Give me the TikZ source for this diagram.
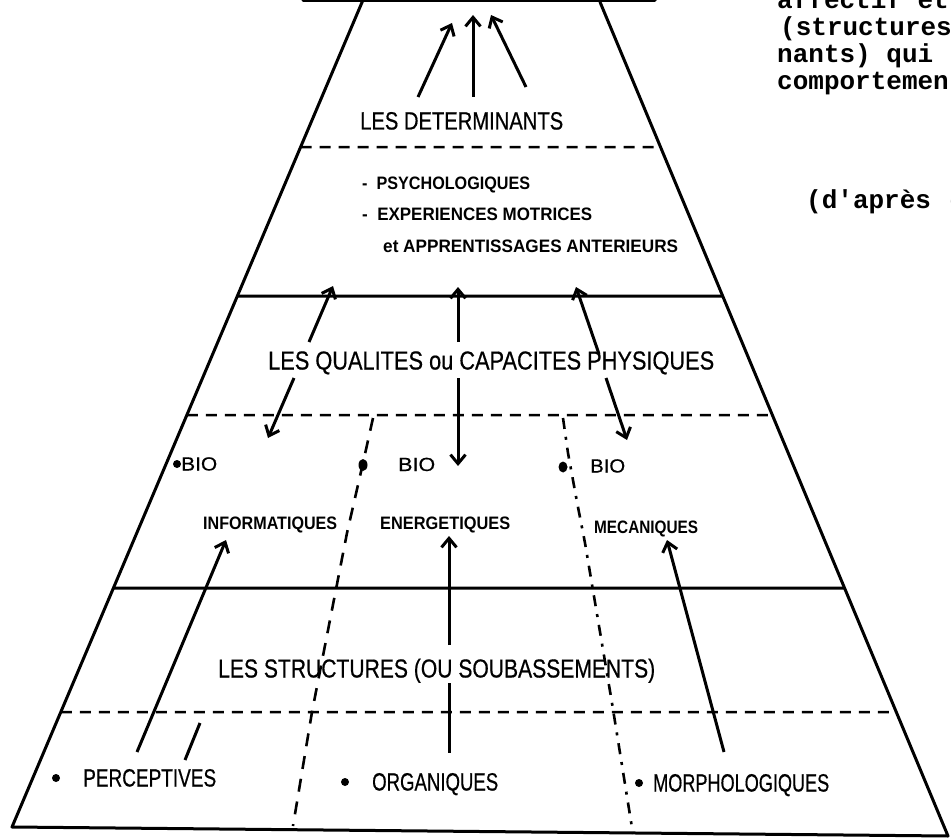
\documentclass[tikz,border=0pt]{standalone}
\usepackage{fontspec}
\setmainfont{Liberation Sans}
\newfontfamily\twfont{Liberation Mono}
\newfontfamily\bigfont[FakeBold=0.6]{Liberation Sans}
\usetikzlibrary{arrows.meta,calc}
\newlength\fitlen
\newcommand\fitw[2]{\settowidth\fitlen{#2}\pgfmathsetmacro\fitr{#1/\fitlen}\scalebox{\fitr}[1]{#2}}
\tikzset{
  edge/.style={line width=3pt,line cap=round,line join=round},
  dsh/.style={line width=2.5pt,dash pattern=on 11pt off 8pt},
  sepdash/.style={line width=2.6pt,dash pattern=on 13pt off 10pt},
  sepdot/.style={line width=2.6pt,dash pattern=on 11pt off 8pt on 3pt off 8pt},
  arr/.style={line width=3pt,-{Straight Barb[length=9pt,width=15pt,line width=3pt]}},
  plain/.style={line width=3pt},
  big/.style={anchor=base west,inner sep=0pt,font=\bigfont\fontsize{25}{25}\selectfont},
  small/.style={anchor=base west,inner sep=0pt,font=\fontsize{18}{18}\selectfont\bfseries},
  bio/.style={anchor=base west,inner sep=0pt,font=\bigfont\fontsize{19}{19}\selectfont},
  tw/.style={anchor=base west,inner sep=0pt,font=\twfont\bfseries\fontsize{26}{26}\selectfont},
}
\newcommand\hln[2]{\draw[#2] (intersection of TL--BL and 0,#1--1,#1) -- (intersection of TR--BR and 0,#1--1,#1);}
\begin{document}
\begin{tikzpicture}[x=1pt,y=-1pt]
\useasboundingbox (0,0) rectangle (951,840);
\fill[white] (0,0) rectangle (951,840);
\clip (0,0) rectangle (951,840);
% trapezoid
\coordinate (TL) at (363,0);
\coordinate (BL) at (12,827);
\coordinate (TR) at (600,2);
\coordinate (BR) at (948,836);
\draw[edge] (303,1) -- (655,1);
\draw[edge] (TL) -- (BL) -- (BR) -- (TR);
\hln{147}{dsh}
\hln{296}{plain}
\hln{415}{dsh}
\hln{588}{plain}
\hln{712}{dsh}
% separators
\draw[sepdash] (373,418) -- (363,463) -- (347,533) -- (312,712) -- (293,826);
\draw[sepdot] (563,418) -- (568,453) -- (577,502) -- (585,543) -- (612,703) -- (633,834);
% texts
\node[big] (det) at (360,129.5) {\fitw{203}{LES DETERMINANTS}};
\node[small] (psy) at (362,189.5) {\fitw{168}{-\ \ PSYCHOLOGIQUES}};
\node[small] (exp) at (362,220.5) {\fitw{230}{-\ \ EXPERIENCES MOTRICES}};
\node[small] (app) at (383,252.5) {\fitw{295}{et APPRENTISSAGES ANTERIEURS}};
\node[big,font=\bigfont\fontsize{26}{26}\selectfont] (qual) at (268,369.5) {\fitw{446}{LES QUALITES ou CAPACITES PHYSIQUES}};
\node[bio] (bio1) at (181,470.5) {\fitw{36}{BIO}};
\node[bio] (bio2) at (398,471) {\fitw{37}{BIO}};
\node[bio] (bio3) at (590,472.5) {\fitw{35}{BIO}};
\fill (177,464) circle (4);
\fill (363,465) ellipse (4.5 and 6);
\fill (563,467) ellipse (4.5 and 5.5);
\node[small] (inf) at (203,529.5) {\fitw{134}{INFORMATIQUES}};
\node[small] (ene) at (380,529.5) {\fitw{130}{ENERGETIQUES}};
\node[small] (mec) at (594,533.5) {\fitw{104}{MECANIQUES}};
\node[big,font=\bigfont\fontsize{26}{26}\selectfont] (str) at (218,677.5) {\fitw{437}{LES STRUCTURES (OU SOUBASSEMENTS)}};
\node[big] (per) at (83,786.5) {\fitw{133}{PERCEPTIVES}};
\node[big] (org) at (372,790.5) {\fitw{126}{ORGANIQUES}};
\node[big] (mor) at (653,791.5) {\fitw{176}{MORPHOLOGIQUES}};
\fill (56,778) circle (4);
\fill (345,782) circle (4);
\fill (639,783) circle (4);
% side text
\node[tw] (r1) at (777,9) {affectif et};
\node[tw] (r2) at (780,36) {(structures};
\node[tw] (r3) at (777,63) {nants) qui};
\node[tw] (r4) at (777,90) {comportemen};
\node[tw] (r5) at (806,208) {(d'après (};
% top arrows
\coordinate (a1b) at (418,97); \coordinate (a1t) at (452,23);
\coordinate (a2b) at (473,97); \coordinate (a2t) at (473,15);
\coordinate (a3b) at (526,87); \coordinate (a3t) at (491,15);
\draw[arr] (a1b) -- (a1t);
\draw[arr] (a2b) -- (a2t);
\draw[arr] (a3b) -- (a3t);
% qualites arrows
\coordinate (q1t) at (333,286); \coordinate (q1m) at (309,342);
\coordinate (q1n) at (294,378); \coordinate (q1b) at (268,438);
\draw[arr] (q1m) -- (q1t); \draw[arr] (q1n) -- (q1b);
\coordinate (q2t) at (458,287); \coordinate (q2m) at (458,342);
\coordinate (q2n) at (458,378); \coordinate (q2b) at (458,466);
\draw[arr] (q2m) -- (q2t); \draw[arr] (q2n) -- (q2b);
\coordinate (q3t) at (576,287); \coordinate (q3m) at (599,354);
\coordinate (q3n) at (606,378); \coordinate (q3b) at (627,440);
\draw[arr] (q3m) -- (q3t); \draw[arr] (q3n) -- (q3b);
% structure arrows
\coordinate (b1t) at (226,540); \coordinate (b1b) at (137,752);
\draw[arr] (b1b) -- (b1t);
\coordinate (s1a) at (200,723); \coordinate (s1b) at (185,760);
\draw[plain] (s1a) -- (s1b);
\coordinate (b2t) at (449,536); \coordinate (b2m) at (449,645);
\coordinate (b2n) at (449,683); \coordinate (b2b) at (449,753);
\draw[arr] (b2m) -- (b2t); \draw[plain] (b2n) -- (b2b);
\coordinate (b3t) at (667,540); \coordinate (b3b) at (724,752);
\draw[arr] (b3b) -- (b3t);
\end{tikzpicture}
\end{document}
